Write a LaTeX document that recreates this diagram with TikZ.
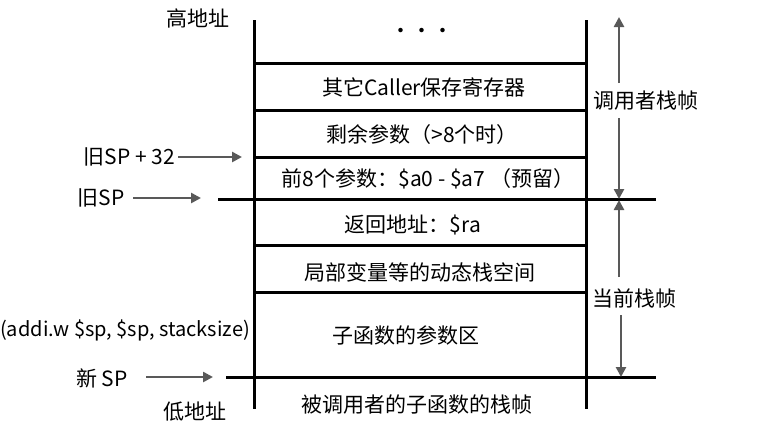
\documentclass[tikz,border=0pt]{standalone}
\usepackage{fontspec}
\setmainfont{Noto Sans CJK SC}
\usetikzlibrary{arrows.meta}
\definecolor{arrowgray}{RGB}{89,89,89}
\begin{document}
\begin{tikzpicture}[x=1pt,y=-1pt,
  frame/.style={line width=3pt, draw=black},
  garrow/.style={line width=2.8pt, draw=arrowgray, -{Triangle[length=10pt,width=10pt]}},
  lbl/.style={inner sep=0pt, font=\fontsize{21}{25}\selectfont},
  lbls/.style={inner sep=0pt, font=\fontsize{20}{24}\selectfont},
]
\useasboundingbox (0,0) rectangle (759,429);
% frame verticals
\coordinate (LT) at (254,20);
\coordinate (LB) at (254,409);
\coordinate (RT) at (586,20);
\coordinate (RB) at (586,409);
\draw[frame] (LT) -- (LB);
\draw[frame] (RT) -- (RB);
% horizontal separators
\coordinate (h1l) at (254,63);  \coordinate (h1r) at (586,63);
\coordinate (h2l) at (254,110); \coordinate (h2r) at (586,110);
\coordinate (h3l) at (254,157); \coordinate (h3r) at (586,157);
\coordinate (h4l) at (218,199); \coordinate (h4r) at (656,199);
\coordinate (h5l) at (254,245); \coordinate (h5r) at (586,245);
\coordinate (h6l) at (254,292); \coordinate (h6r) at (586,292);
\coordinate (h7l) at (226,377); \coordinate (h7r) at (656,377);
\foreach \i in {1,...,7} {\draw[frame] (h\i l) -- (h\i r);}
% cell texts
\node[lbl] (dots) at (422,33) {···};
\node[lbl] (c1) at (424,87) {其它Caller保存寄存器};
\node[lbl] (c2) at (422,135) {剩余参数（>8个时）};
\node[lbl] (c3) at (428,179) {前8个参数：\$a0 - \$a7 （预留）};
\node[lbl] (c4) at (413,225) {返回地址：\$ra};
\node[lbl] (c5) at (420,272) {局部变量等的动态栈空间};
\node[lbl] (c6) at (406,335) {子函数的参数区};
\node[lbl] (c7) at (417,405) {被调用者的子函数的栈帧};
% left labels
\node[lbl] (high) at (198,18) {高地址};
\node[lbl] (low) at (195,412) {低地址};
\node[lbl,anchor=east] (sp32) at (175,157) {旧SP + 32};
\node[lbl,anchor=east] (oldsp) at (125,198) {旧SP};
\node[lbls,anchor=west] (addi) at (0,330) {(addi.w \$sp, \$sp, stacksize)};
\node[lbl,anchor=east] (newsp) at (128,378) {新 SP};
\coordinate (a1s) at (178,157); \coordinate (a1e) at (242,157);
\coordinate (a2s) at (133,198); \coordinate (a2e) at (201,198);
\coordinate (a3s) at (146,377); \coordinate (a3e) at (213,377);
\draw[garrow] (a1s) -- (a1e);
\draw[garrow] (a2s) -- (a2e);
\draw[garrow] (a3s) -- (a3e);
% right labels
\node[lbl] (caller) at (646,101) {调用者栈帧};
\node[lbl] (cur) at (634,298) {当前栈帧};
\coordinate (b1s) at (619,83);  \coordinate (b1e) at (619,17);
\coordinate (b2s) at (619,118); \coordinate (b2e) at (619,199);
\coordinate (b3s) at (619,277); \coordinate (b3e) at (619,200);
\coordinate (b4s) at (621,315); \coordinate (b4e) at (621,377);
\draw[garrow] (b1s) -- (b1e);
\draw[garrow] (b2s) -- (b2e);
\draw[garrow] (b3s) -- (b3e);
\draw[garrow] (b4s) -- (b4e);
\end{tikzpicture}
\end{document}
